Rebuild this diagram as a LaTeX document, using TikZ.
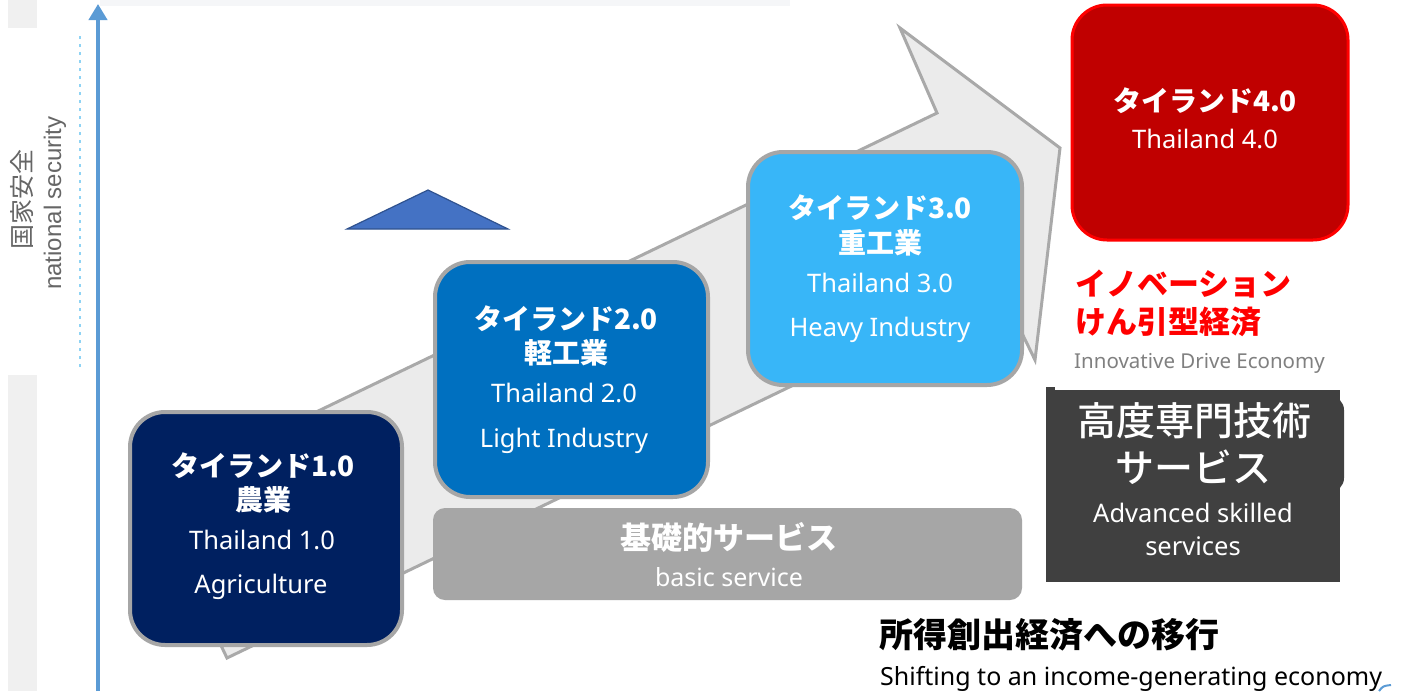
\documentclass[tikz,border=0pt]{standalone}
\usepackage{fontspec}
\setmainfont{Noto Sans}
\newfontfamily\jp{Noto Sans CJK JP}
\newfontfamily\jpmed{Noto Sans CJK JP Medium}
\newfontfamily\arialf{Liberation Sans}
\usetikzlibrary{arrows.meta}
\definecolor{navy}{HTML}{002060}
\definecolor{midblue}{HTML}{0070C0}
\definecolor{skyblue}{HTML}{38B6F8}
\definecolor{darkred}{HTML}{C00000}
\definecolor{brightred}{HTML}{FF0000}
\definecolor{boxgray}{HTML}{A6A6A6}
\definecolor{basicgray}{HTML}{A6A6A6}
\definecolor{darkbox}{HTML}{404040}
\definecolor{arrowfill}{HTML}{EBEBEB}
\definecolor{arrowline}{HTML}{A9A9A9}
\definecolor{axisblue}{HTML}{5B9BD5}
\definecolor{dotblue}{HTML}{8FD3F4}
\definecolor{trifill}{HTML}{4472C4}
\definecolor{triline}{HTML}{2F528F}
\definecolor{panelgray}{HTML}{F0F0F0}
\definecolor{stripgray}{HTML}{F5F6F8}
\definecolor{labelgray}{HTML}{666666}
\definecolor{subgray}{HTML}{808080}
\begin{document}
\begin{tikzpicture}[x=1pt,y=-1pt,
  box/.style={draw=boxgray, line width=4pt, rounded corners=35pt, inner sep=0pt},
  txt/.style={text=white, inner sep=0pt, anchor=base},
  jptitle/.style={txt, font=\jp\bfseries\fontsize{28}{30}\selectfont},
  entxt/.style={txt, font=\fontsize{25.5}{27}\selectfont},
  axis/.style={draw=axisblue, line width=4.5pt, -{Triangle[width=18pt,length=16pt]}},
]
\useasboundingbox (0,0) rectangle (1408,691);
\fill[white] (0,0) rectangle (1408,691);
% background panels
\fill[stripgray] (100,0) rectangle (790,6);
\fill[panelgray] (8,0) rectangle (37,28);
\fill[panelgray] (8,375) rectangle (37,691);
% big arrow
\filldraw[fill=arrowfill, draw=arrowline, line width=3pt, line join=miter]
  (227,658) -- (148,493) -- (937,113) -- (900,28) -- (1060,148) -- (1035,360) -- (999,286) -- cycle;
% triangle
\filldraw[fill=trifill, draw=triline, line width=1.2pt] (347,229) -- (428,190) -- (508,229) -- cycle;
% axis
\coordinate (axb) at (98,691);
\coordinate (axt) at (98,4);
\draw[axis] (axb) -- (axt);
\coordinate (dtb) at (80,367);
\coordinate (dtt) at (80,35);
\draw[dotblue, line width=1.5pt, dash pattern=on 3pt off 5pt] (dtb) -- (dtt);
\node[rotate=90, inner sep=0pt, text=labelgray, font=\jp\fontsize{25}{27}\selectfont] (lbljp) at (22,199) {国家安全};
\node[rotate=90, inner sep=0pt, text=labelgray, font=\arialf\fontsize{24}{26}\selectfont] (lblen) at (55,203) {national security};
% boxes
\node[box, fill=navy, minimum width=272pt, minimum height=233pt] (b1) at (266,528.5) {};
\node[box, fill=midblue, minimum width=273pt, minimum height=235pt] (b2) at (571.5,379.5) {};
\node[box, fill=skyblue, minimum width=274pt, minimum height=233pt] (b3) at (885,268.5) {};
\node[box, draw=brightred, line width=3pt, fill=darkred, minimum width=276pt, minimum height=235pt] (b4) at (1210,122.5) {};
\node[fill=basicgray, rounded corners=12pt, minimum width=589pt, minimum height=92pt, inner sep=0pt] (bs) at (727.5,554) {};
% dark box with the shape peeking behind it
\fill[darkbox, rounded corners=14pt] (1250,396) rectangle (1344,492);
\node[fill=darkbox, minimum width=294pt, minimum height=192pt, inner sep=0pt] (bd) at (1193,486) {};
\fill[darkbox] (1046,387) rectangle (1055,392);
% box 1 texts
\node[jptitle] (b1a) at (263,476) {タイランド1.0};
\node[jptitle] (b1b) at (263,510) {農業};
\node[entxt] (b1c) at (262,549) {Thailand 1.0};
\node[entxt] (b1d) at (261,593) {Agriculture};
% box 2 texts
\node[jptitle] (b2a) at (566,329) {タイランド2.0};
\node[jptitle] (b2b) at (566,363) {軽工業};
\node[entxt] (b2c) at (564,402) {Thailand 2.0};
\node[entxt] (b2d) at (564,447) {Light Industry};
% box 3 texts
\node[jptitle] (b3a) at (880,218) {タイランド3.0};
\node[jptitle] (b3b) at (880,253) {重工業};
\node[entxt] (b3c) at (880,292) {Thailand 3.0};
\node[entxt] (b3d) at (880,336) {Heavy Industry};
% box 4 texts
\node[jptitle] (b4a) at (1205,111) {タイランド4.0};
\node[entxt] (b4b) at (1205,148) {Thailand 4.0};
% basic service
\node[txt, font=\jp\bfseries\fontsize{31}{33}\selectfont] (bsa) at (729,549) {基礎的サービス};
\node[txt, font=\fontsize{25}{27}\selectfont] (bsb) at (729,586) {basic service};
% innovation
\node[inner sep=0pt, anchor=base west, text=brightred, font=\jp\bfseries\fontsize{31}{33}\selectfont] (inna) at (1075,295) {イノベーション};
\node[inner sep=0pt, anchor=base west, text=brightred, font=\jp\bfseries\fontsize{31}{33}\selectfont] (innb) at (1075,333) {けん引型経済};
\node[inner sep=0pt, anchor=base west, text=subgray, font=\fontsize{20.5}{22}\selectfont] (innc) at (1074,368) {Innovative Drive Economy};
% dark box texts
\node[txt, font=\jpmed\fontsize{39}{41}\selectfont] (bda) at (1194,435) {高度専門技術};
\node[txt, font=\jpmed\fontsize{39}{41}\selectfont] (bdb) at (1193,482) {サービス};
\node[entxt] (bdc) at (1193,522) {Advanced skilled};
\node[entxt] (bdd) at (1193,555) {services};
% bottom texts
\node[inner sep=0pt, anchor=base west, font=\jp\bfseries\fontsize{34}{36}\selectfont] (bta) at (879,647) {所得創出経済への移行};
\node[inner sep=0pt, anchor=base west, font=\fontsize{25}{27}\selectfont] (btb) at (880,685) {Shifting to an income-generating economy};
% small blue mark at the lower right corner
\draw[axisblue, line width=2pt] (1379,691) .. controls (1383,686) .. (1391,685);
\end{tikzpicture}
\end{document}
